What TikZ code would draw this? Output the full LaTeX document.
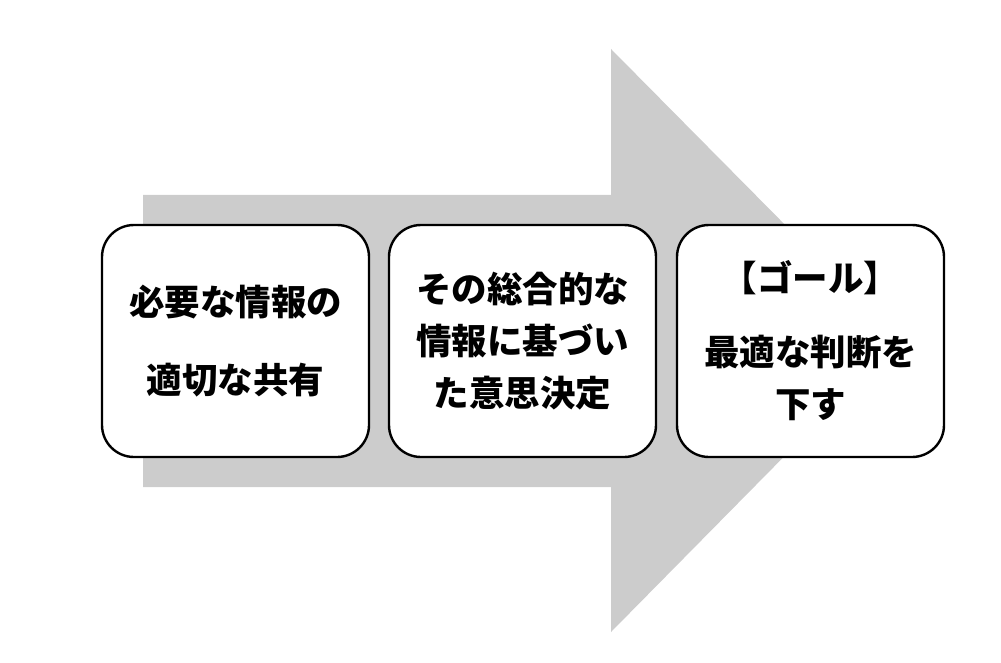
\documentclass[tikz,border=0pt]{standalone}
\usepackage{fontspec}
\newfontfamily\jpfont{Noto Sans CJK JP}
\usetikzlibrary{positioning}

\tikzset{
  stepbox/.style={draw=black, line width=2.4pt, fill=white, rounded corners=32pt,
    minimum width=267pt, minimum height=232pt, align=center, inner sep=0pt,
    outer sep=0pt, font=\jpfont\bfseries\fontsize{35.5}{52}\selectfont},
  bigarrow/.style={fill=black!20, draw=none}
}

\begin{document}
\begin{tikzpicture}[x=1pt, y=1pt, yscale=-1]
\useasboundingbox (0,0) rectangle (1001,663);
% background arrow
\fill[bigarrow] (143,195) -- (611,195) -- (611,49) -- (899,340) -- (611,632)
  -- (611,487) -- (143,487) -- cycle;
% steps
\node[stepbox] (need) at (235.5,341) {必要な情報の\\[26pt]適切な共有};
\node[stepbox, right=20pt of need] (decide) {その総合的な\\情報に基づい\\た意思決定};
\node[stepbox, right=21pt of decide] (goal) {【ゴール】\\[22pt]最適な判断を\\下す};
\end{tikzpicture}
\end{document}
